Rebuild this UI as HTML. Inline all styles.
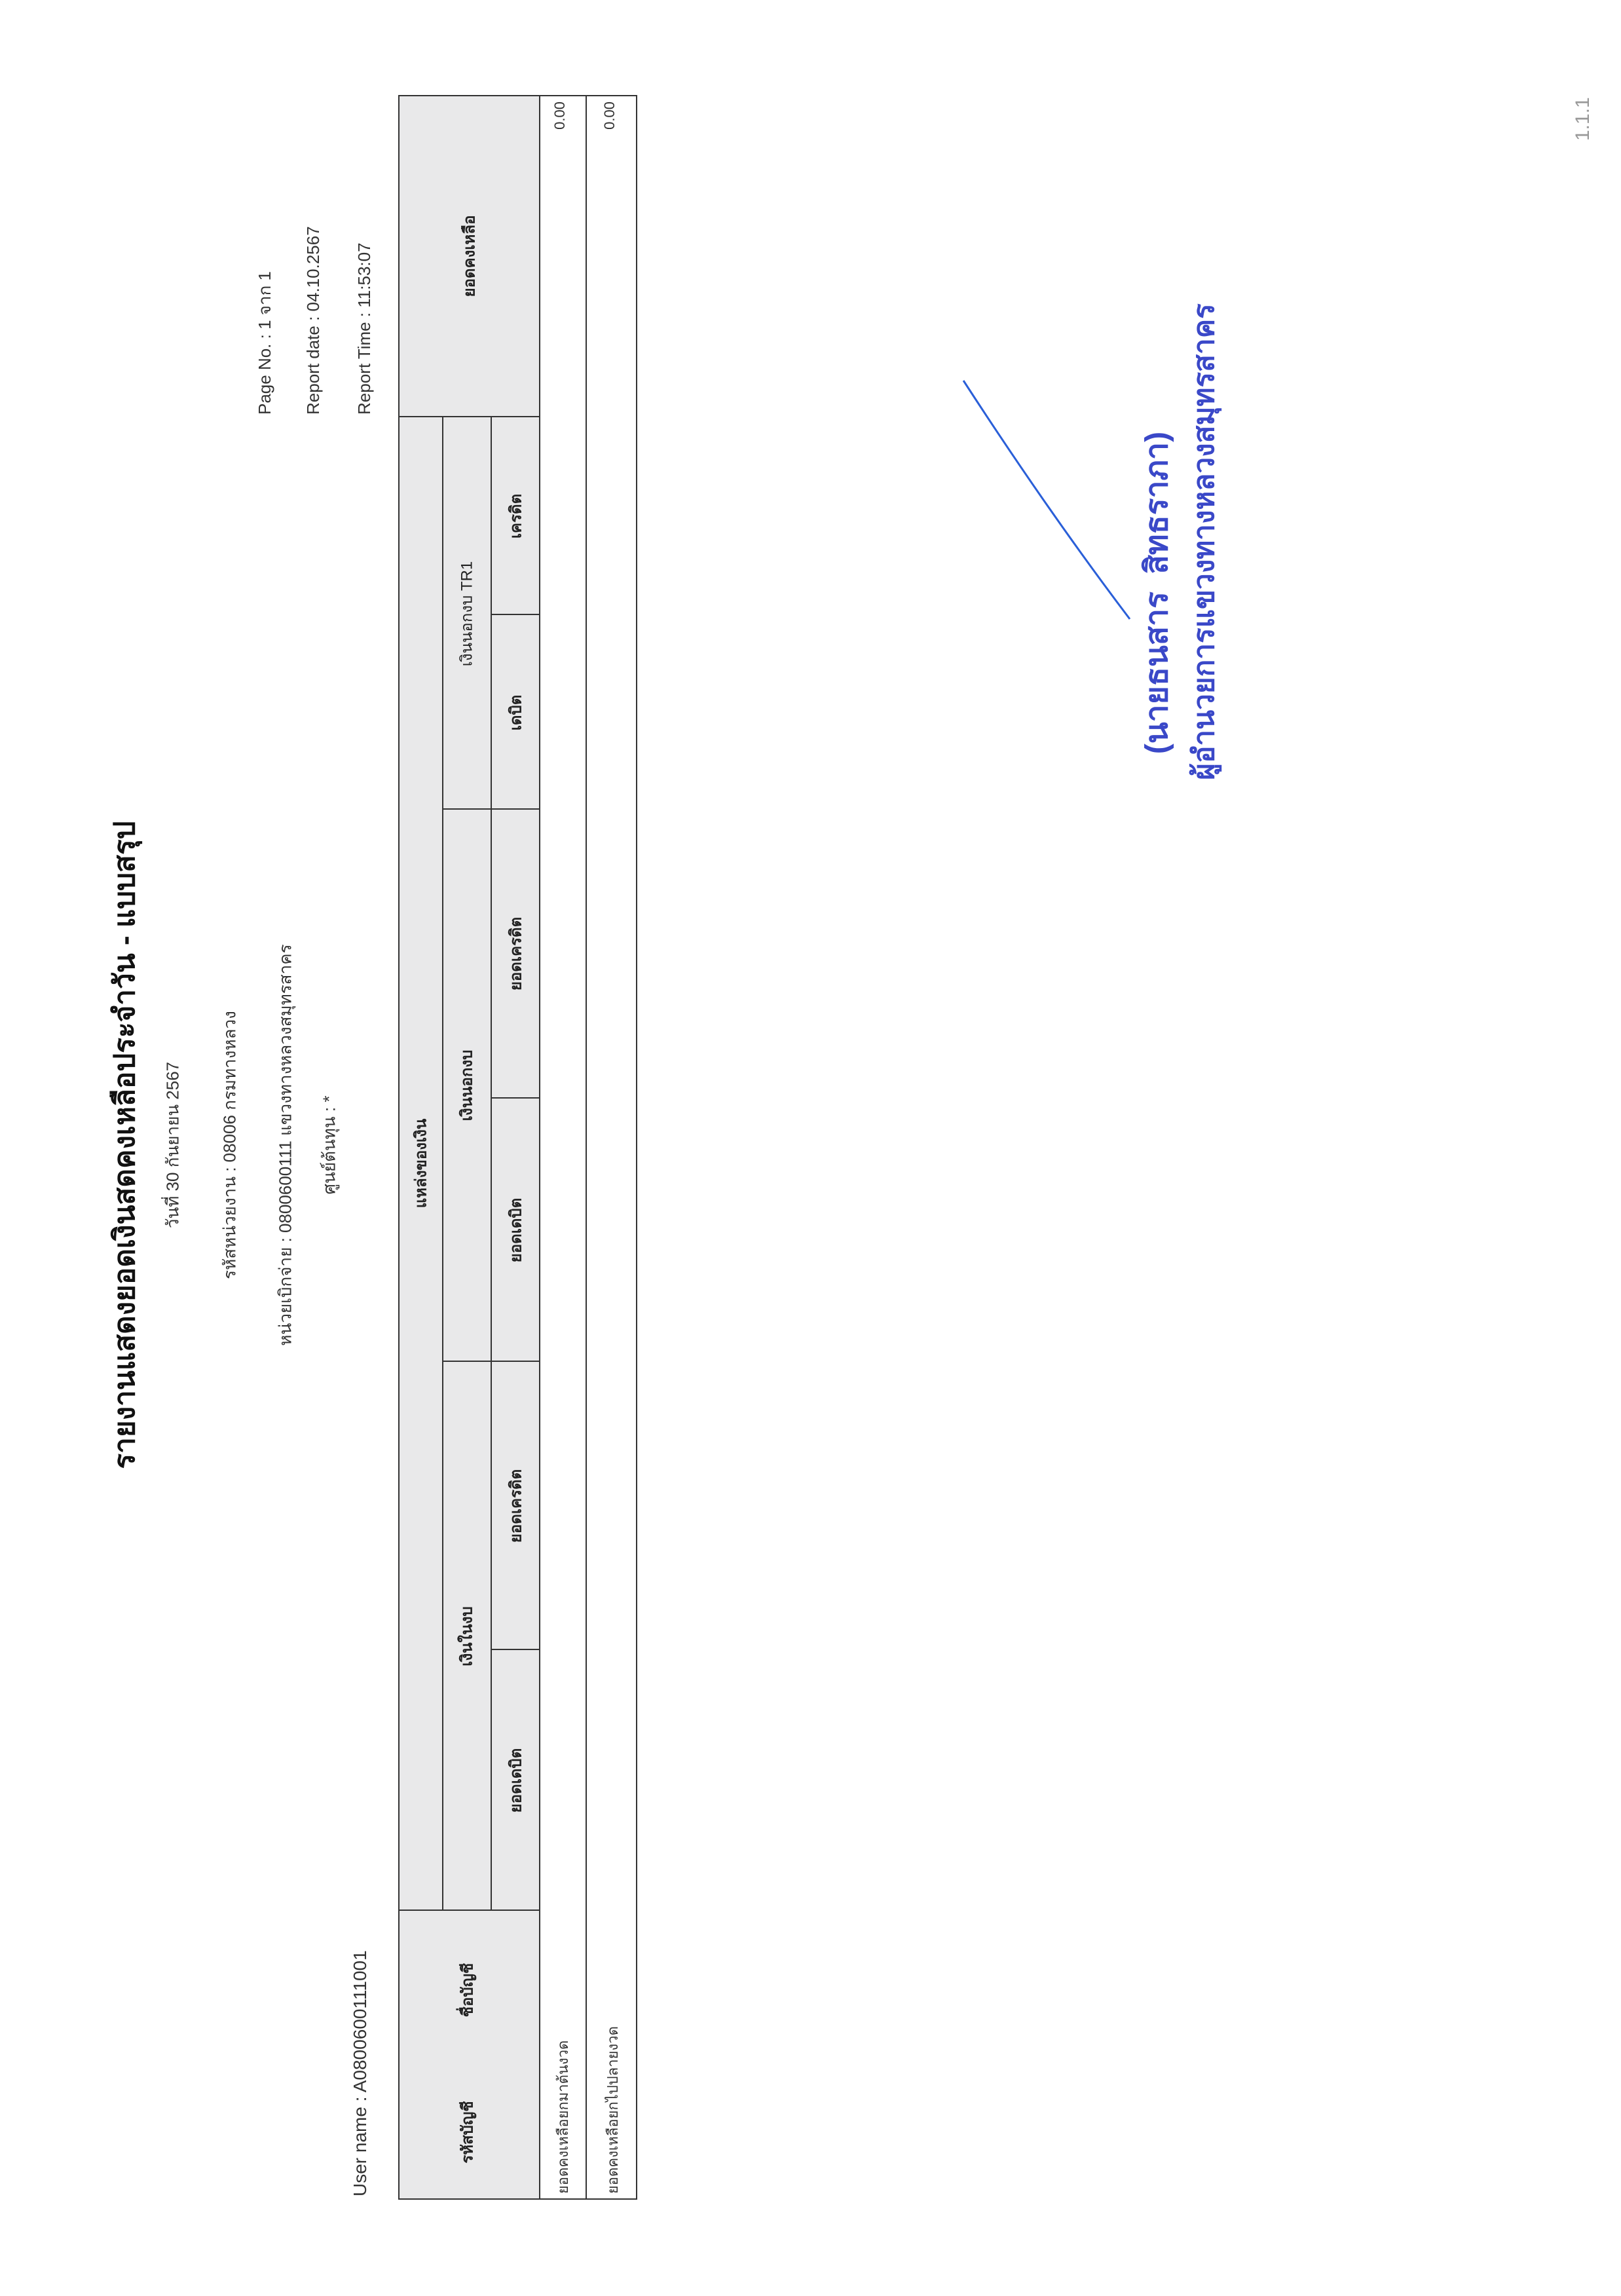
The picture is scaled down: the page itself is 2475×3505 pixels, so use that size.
<!DOCTYPE html>
<html><head><meta charset="utf-8">
<style>
html,body{margin:0;padding:0;background:#fff;}
body{width:2475px;height:3505px;position:relative;overflow:hidden;font-family:"Liberation Sans","Noto Sans CJK SC",sans-serif;}
#rot{position:absolute;left:0;top:0;width:3505px;height:2475px;transform-origin:0 0;transform:translate(0,3505px) rotate(-90deg);}
.t{position:absolute;white-space:nowrap;color:#333;}
.c{transform:translate(-50%,-50%);}
.box{position:absolute;box-sizing:border-box;}
.hd{background:#e9e9ea;border:2px solid #333;}
.hl{position:absolute;font-weight:bold;font-size:24px;color:#222;transform:translate(-50%,-50%);white-space:nowrap;}
</style></head><body>
<div id="rot">
  <div class="t c" style="left:1757px;top:190px;font-size:44px;font-weight:bold;color:#111;">รายงานแสดงยอดเงินสดคงเหลือประจำวัน - แบบสรุป</div>
  <div class="t c" style="left:1757px;top:264px;font-size:26px;">วันที่ 30 กันยายน 2567</div>
  <div class="t c" style="left:1757px;top:351px;font-size:26px;">รหัสหน่วยงาน : 08006 กรมทางหลวง</div>
  <div class="t c" style="left:1757px;top:436px;font-size:26px;">หน่วยเบิกจ่าย : 0800600111 แขวงทางหลวงสมุทรสาคร</div>
  <div class="t c" style="left:1757px;top:503px;font-size:26px;">ศูนย์ต้นทุน : *</div>
  <div class="t" style="left:152px;top:534px;font-size:28px;">User name : A0800600111001</div>
  <div class="t" style="left:2872px;top:384px;font-size:26px;">Page No. : 1 จาก 1</div>
  <div class="t" style="left:2872px;top:463px;font-size:26px;">Report date :  04.10.2567</div>
  <div class="t" style="left:2872px;top:541px;font-size:26px;">Report Time :  11:53:07</div>

  <div class="box hd" style="left:147px;top:608px;width:443px;height:217px;"></div>
  <div class="box hd" style="left:588px;top:608px;width:2282px;height:69px;"></div>
  <div class="box hd" style="left:588px;top:675px;width:840px;height:76px;"></div>
  <div class="box hd" style="left:1426px;top:675px;width:845px;height:76px;"></div>
  <div class="box hd" style="left:2269px;top:675px;width:601px;height:76px;"></div>
  <div class="box hd" style="left:588px;top:749px;width:400px;height:76px;"></div>
  <div class="box hd" style="left:986px;top:749px;width:442px;height:76px;"></div>
  <div class="box hd" style="left:1426px;top:749px;width:404px;height:76px;"></div>
  <div class="box hd" style="left:1828px;top:749px;width:443px;height:76px;"></div>
  <div class="box hd" style="left:2269px;top:749px;width:299px;height:76px;"></div>
  <div class="box hd" style="left:2566px;top:749px;width:304px;height:76px;"></div>
  <div class="box hd" style="left:2868px;top:608px;width:492px;height:217px;"></div>
  <div class="box" style="left:147px;top:823px;width:3213px;height:73px;border:2px solid #333;"></div>
  <div class="box" style="left:147px;top:894px;width:3213px;height:79px;border:2px solid #333;"></div>

  <div class="hl" style="left:250px;top:713px;">รหัสบัญชี</div>
  <div class="hl" style="left:467px;top:713px;">ชื่อบัญชี</div>
  <div class="hl" style="left:1729px;top:642px;">แหล่งของเงิน</div>
  <div class="hl" style="left:1007px;top:712px;">เงินในงบ</div>
  <div class="hl" style="left:1848px;top:712px;">เงินนอกงบ</div>
  <div class="hl" style="left:2568px;top:712px;font-weight:normal;">เงินนอกงบ TR1</div>
  <div class="hl" style="left:787px;top:787px;">ยอดเดบิต</div>
  <div class="hl" style="left:1206px;top:787px;">ยอดเครดิต</div>
  <div class="hl" style="left:1627px;top:787px;">ยอดเดบิต</div>
  <div class="hl" style="left:2049px;top:787px;">ยอดเครดิต</div>
  <div class="hl" style="left:2417px;top:787px;">เดบิต</div>
  <div class="hl" style="left:2717px;top:787px;">เครดิต</div>
  <div class="hl" style="left:3114px;top:716px;">ยอดคงเหลือ</div>

  <div class="t" style="left:156px;top:842px;font-size:22px;">ยอดคงเหลือยกมาต้นงวด</div>
  <div class="t" style="right:155px;top:842px;font-size:22px;">0.00</div>
  <div class="t" style="left:156px;top:918px;font-size:22px;">ยอดคงเหลือยกไปปลายงวด</div>
  <div class="t" style="right:155px;top:918px;font-size:22px;">0.00</div>

  <div class="t c" style="left:2600px;top:1766px;font-size:48px;font-weight:bold;color:#3a48c8;">(นายธนสาร&nbsp;&nbsp;สิทธราภา)</div>
  <div class="t c" style="left:2678px;top:1838px;font-size:44px;font-weight:bold;color:#3a48c8;">ผู้อำนวยการแขวงทางหลวงสมุทรสาคร</div>
  <div class="t" style="left:3290px;top:2400px;font-size:30px;color:#999;">1.1.1</div>
</div>
<svg width="2475" height="3505" style="position:absolute;left:0;top:0;pointer-events:none;">
  <path d="M1471 581 Q1600 780 1725 945" fill="none" stroke="#2a5fd8" stroke-width="3"/>
</svg>
</body></html>
